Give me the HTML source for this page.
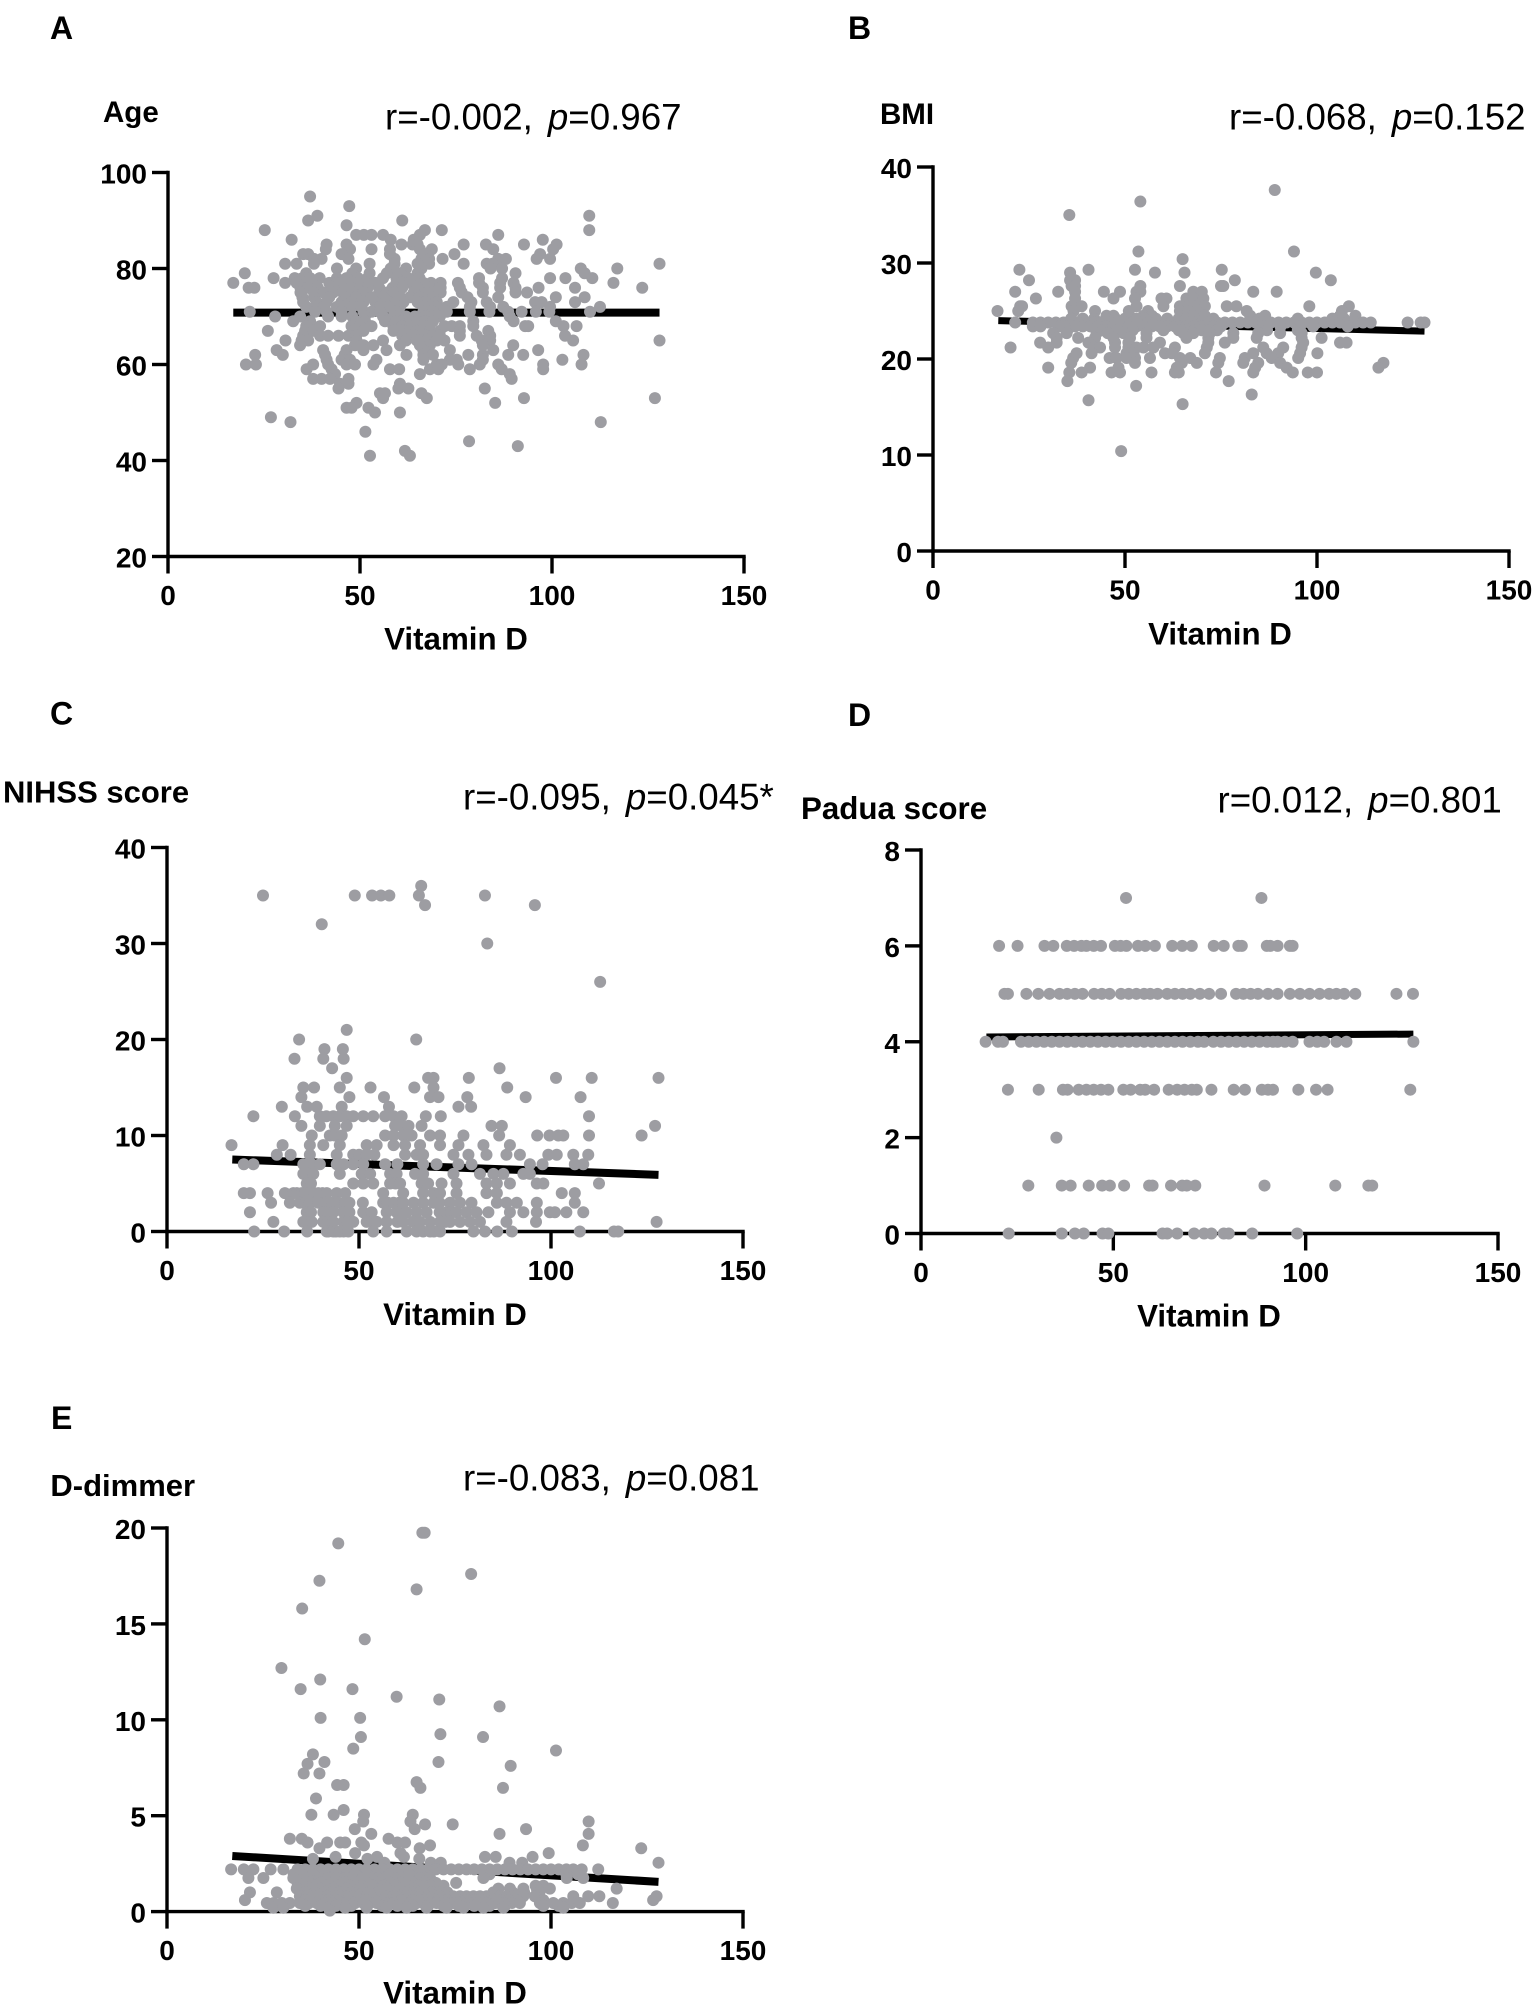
<!DOCTYPE html>
<html lang="en">
<head>
<meta charset="utf-8">
<title>Vitamin D correlations</title>
<style>
html,body{margin:0;padding:0;background:#fff;}
svg{display:block;font-family:"Liberation Sans",sans-serif;}
</style>
</head>
<body>
<svg id="figure" xmlns="http://www.w3.org/2000/svg" width="1536" height="2011" viewBox="0 0 1536 2011"></svg>
<script>
const vitaminTicks=[0,50,100,150];
const fitVitD=[17,128];

const ageTicks=[20,40,60,80,100];
const ageFit=[70.8,70.8];
const ageLevels=[95,93,91,90,89,88,87,86,85,84,83,82,81,80,79,78,77,76,75,74,73,72,71,70,69,68,67,66,65,64,63,62,61,60,59,58,57,56,55,54,53,52,51,50,49,48,46,44,43,42,41];
const ageVitD=[
[37],[47.2],[38.9,109.7],[36.5,61],[46.5],[25.2,66.9,71.3,109.7],[49,51,53,56,65.6,86],[32.2,58,64,97.6],
[41.3,46.5,60.8,63.7,65,77,82.8,92.7,101.2],[41.1,47.4,53,57.8,65.6,68.7,84.7,100.3],[35.2,36.5,45.2,57.8,67,74.6,96.9],
[38,40,47,59,66,68,71.5,86,88,96,99.5],[30.5,33.5,38,52.5,59,65,68,77,83,84.5,128],[44,49,58,62,66,84,87,107.5,117],
[20,36,48,52.5,57,60.5,65,90.5,108.5],[27.5,33,35,37,39.5,44,46.5,49.5,52,56,59.5,62.5,65.5,81,87,99.5,103.5,110.5],
[17,30.5,33.5,37.5,42,44,45,48,51.5,54,59.5,61,63,66.5,68.5,71,75.5,81,86.5,90,116],
[21,22.5,34.5,36.5,39,43,47.5,50,52,55,58.5,61,65,68,71,76,82,86.5,90.5,96.5,106,123.5],
[34.5,38,40.5,43,45.5,48,51,55,57,59,64,67.5,69,71,76.5,82,90.5,93.5],[35,38,42,46,49,53,56,60.5,63,65.5,69,78,86,101,108.5],
[35.2,38.7,41.3,45.2,47.8,50.9,54,57.8,59.5,61.3,65,67,70,74.3,79,83,95.6,97.3,106],
[36,38.3,40.4,44,45.7,48,50.4,55.2,57.5,60.4,66.5,68,70,72.6,78.6,83.9,87.3,99.5,112.5],
[21.3,38.3,41.3,45.2,50.9,53,55.2,59.5,66.5,68,69,72.6,78.6,83.7,88.6,92.1,95.8,99.3,109.9],
[27.9,34.4,41.7,45.2,48,51.3,56,58.7,62,64.3,67,69,70.8,89],[32.6,37,49,51.3,56.5,59.5,61,63,65,67,69,79.5,90,101],
[36,39.6,47.8,50,53,58.7,61,63,65,66.5,68,72,73.9,76,79.5,93,93.8,103,106.4],[26,35.7,37.8,48.3,50.9,58.7,61,63,64.8,66,68.2,70.8,76,83.4],
[35.2,39.6,41.7,44.4,47,49,61,63.5,65.6,67,69,70.8,76,80.4,83.9,103.4],[30.6,34.8,36.5,49.1,56,62,64.8,66,67.4,70,72,81.7,83.9,105.5,128],
[34.4,48.7,50.9,53.5,60.4,65.6,68.2,82,89.9],[28.3,40.4,46.5,50.9,56.9,66.5,73.4,84.7,96.4],
[22.7,29.9,40.9,46,62.1,66.5,69,78.2,82,88.6,92.5,108.2],[41.3,45.2,47.4,54.3,66.5,73.4,75.2,82,102.7],
[20.3,22.9,37.8,41.7,46.5,48.7,53.5,70,71.3,75.6,81.2,86,97.7,107.7],[36.1,42.6,57.8,60.2,68.2,70.4,78.6,86.9,97.7],
[43.5,65.6,89],[37.8,40,42.2,47,89.5],[44.8,47,60.4],[44.4,60,62.6,82.5],[55.2,56.5,66],[56,67.4,92.7,126.8],[49.1,85.2],
[46.5,47.8,52.2],[53.9,60.4],[26.8],[31.9,112.7],[51.4],[78.4],[91.1],[61.7],[52.6,63]
];

const bmiTicks=[0,10,20,30,40];
const bmiFit=[24,22.9];
const bmiLevels=[37.6,36.4,35,31.2,30.4,29.3,29,28.2,27.6,27,26.3,25.5,25,24.5,24.2,23.8,23.4,23,22.7,22.2,21.7,21.2,20.6,20.1,19.6,19.1,18.6,17.7,17.2,16.3,15.7,15.3,10.4];
const bmiVitD=[
[89],[54],[35.5],[53.5,94],[65],[22.5,40.5,52.6,75.2],[35.7,57.8,65.5,99.7],[25,35.7,37,78.6,103.6],[36.1,37,54,64.3,75,75.6],
[21.4,32.6,37,44.5,48.7,53,54,67.8,70,83.4,89.5],[26.8,37,47,52.6,59.5,60.8,66,67.8,70.4],
[22.7,23.2,36.1,38.7,53,60,64.3,66.5,68.7,70.8,76.5,79,98,108.3],[16.8,22.2,36.6,42.2,51,56,64.3,66.5,68.7,81.7,106.5],
[45.2,47,51,54.8,57,66,67.8,70.8,82.6,86.5,106,110],
[36,39,42,45,47.5,50,53,55,58,61,64,66,68,71,73,85,95,104,107],
[21.4,26,28,30,32,34,36,38,40,42,44,46,48,50,52,54,56,58,60,62,64,66,68,70,72,74,76,78,80,82,84,86,88,90,92,94,96,98,100,102,104,106,108,110,112,114,123.6,127,128],
[26,28,33,35,37,39,41,43,45,47,49,51,53,55,57,59,61,63,64,66,68,70,73,75,86,90.5,95.6,99,108],
[35,44,48,52,60,64,66,68,70,72,74,87,95],
[31.3,34.8,42.6,45.5,49.6,55.6,65.2,67.8,72.1,78.2,84.7,90.4,96],
[32.2,37.8,42.2,47,51.3,55.6,66,71.7,78.2,84.3,96,101.2],[27.9,32.2,40.5,47.4,50.9,59.1,71.7,76,96.4,106,107.7],
[20.2,30,41.8,43.5,47.4,50.9,53,54.8,57.4,63,71.3,86,91.2,96],[37.4,41.3,50.4,52.2,60.4,62.2,70.8,83.4,86.9,89.9,95.6,100.1],
[36.5,46,47.8,50.4,52.6,56.5,64.3,67,74.7,81.2,88.2,95.1],[36,52.6,64.8,68.7,74.3,80.8,84.7,90.4,117.3],
[30,40.9,48.3,63.5,83.9,92.1,116],[35.5,38.7,46.5,48.7,56.9,63,64,73.7,83.4,93.7,97.6,100],[35,77],[52.9],[83],[40.5],[65],[49]
];

const nihssTicks=[0,10,20,30,40];
const nihssFit=[7.5,5.9];
const nihssLevels=[36,35,34,32,30,26,21,20,19,18,17,16,15,14,13,12,11,10,9,8,7,6,5,4,3,2,1,0];
const nihssVitD=[
[66.2],[25,48.9,53.4,55.7,57.9,65.6,82.8],[67.2,95.8],[40.3],[83.4],[112.8],[46.8],[34.4,64.9],[41,45.8],[33.2,40.7,46],[43,86.6],
[46.8,68,69.4,78.6,101.3,110.6,128],[35.5,38.3,45,53,64.4,69.4,88.6],[35,47.5,56.5,68.5,70.7,78.2,93.4,107.7],[29.9,36.5,39,45.5,57.8,75.9,79.2],
[22.5,33.3,39.8,41.5,43.3,45,46.8,48.5,51.1,53.7,56.8,59,61.1,67.4,71.3,109.9],[35,39.8,43.7,46.8,59.4,61,62.9,66.3,84.5,87.2,127.1],
[37.7,42.4,43.7,45.5,56.8,59,61.5,63.7,68.5,71.1,77.2,86.5,96.4,99.6,101.9,103.2,109.9,123.6],
[16.8,30.1,37.2,40.7,45,52,54.6,59,62,65.9,71.1,75.9,82.4,89.3],
[28.6,32.2,37.2,44.2,48.5,50,52,54,62,65,66.7,74.6,78.5,83.2,88.4,91.9,99.3,101.5,105.8,109.7],
[20,22.5,35.5,37.7,39.8,44.2,46,48.5,51.1,56.8,60,66.7,70.2,75.9,79.3,94.5,97.8,106.2,108.4],
[35.5,37,38.1,45,50.7,52.9,58.1,59.8,64.6,66.7,74.6,81.5,85,87.6,92.8,94.5],
[36.4,37.5,48.5,51.1,53.7,58.1,59.5,60.7,66.3,68,71.5,75.4,83.2,85.9,89.3,96.3,98,112.5],
[20,21.6,26.2,30.7,32.9,33.8,35.1,36,37.2,38.4,39.4,40.5,41.6,44.2,46.4,56.3,61.5,66.7,69.4,71.1,75.4,83.2,85.9,102.8,106.2],
[27.1,32,34.6,36,37.2,39.4,41.6,43,44.5,46.4,47.5,51,56.3,57.5,59,60.5,61.5,64.2,66.7,69.4,71,73.7,76.3,79.3,85.9,88.4,91.1,96.3,106.2],
[21.6,36.4,37.5,40.7,41.5,43.3,45.9,47.5,51.1,53.3,57.2,59.8,60.5,62.4,65,67.6,71,72.8,74,75.4,78,80.6,83.7,89.3,92.8,96.3,99.7,101,104,108.4],
[27.7,35.5,37.7,40.7,42,43.3,45.9,47,48.5,52,53.5,54.6,57.2,60,61.5,64,65.9,68.5,71.1,72.5,73.7,76.3,78.9,81.5,88.4,96.1,127.5],
[22.7,30.5,36.5,41.6,42,43.3,44,45,46,47.2,53.7,57.2,62.4,65,66.7,68.5,69.5,71.1,79.8,82.8,86,89.8,107.5,116.4,117.5]
];

const paduaTicks=[0,2,4,6,8];
const paduaFit=[4.1,4.16];
const paduaLevels=[7,6,5,4,3,2,1,0];
const paduaVitD=[
[53.3,88.5],
[20.3,25.1,32.1,34.4,37.9,39.8,41.7,43,44.9,46.8,50.4,51.9,53.4,56.4,58.3,60.8,65.3,67.9,70.4,76.1,78.7,82.5,83.4,89.9,90.8,92.7,95.9,96.6],
[21.7,22.6,27.4,30.5,33.4,36,38,40,42,45,47,49,52,54,56,58,59.6,61.5,64,66,68,70,72.5,74.9,78,81.9,83.8,85.7,87.6,90.2,92.7,95.9,98.5,101,103.6,106.1,108,110,112.9,123.6,127.9],
[16.8,20,21.3,26,28,30,32,34,36,38,40,42,44,46,48,50,52,54,56,58,60,62,64,66,68,70,72,73.6,76,78,80,82,84,86,88,90,91.5,92.7,94.6,96.6,101,103,104.8,108,110.6,128],
[22.6,30.6,36.9,38.1,41,43,44.9,46.8,48.7,52.6,54.5,57,58.3,60.6,64.4,66.6,68.5,70.4,71.7,75.5,81.3,84.2,88.6,90.2,91.5,98.1,102.7,105.7,127.2],
[35.2],
[27.9,36.6,38.9,43.6,47.1,49.1,52.8,59.3,60.2,65,67.9,69.1,71.3,89.3,107.7,116.3,117.3],
[22.8,36.6,40,42.3,47.2,48.7,62.8,64,66.6,71,73.6,75.5,78.7,80,86.1,97.8]
];

const dimerTicks=[0,5,10,15,20];
const dimerFit=[2.9,1.55];
const dimerLevels=[19.75,19.2,17.6,17.25,16.8,15.8,14.2,12.7,12.1,11.6,11.2,11.06,10.7,10.1,9.25,9.1,8.5,8.4,8.2,7.8,7.7,7.6,7.2,6.75,6.6,6.45,5.9,5.3,5.05,4.7,4.55,4.3,4.05,3.8,3.6,3.45,3.3,3.05,2.85,2.75,2.55,2.2,1.95,1.75,1.5,1.35,1.2,1,0.8,0.6,0.45,0.3,0.2,0.05];
const dimerVitD=[
[66.5,67.1],[44.6],[79.2],[39.7],[65],[35.2],[51.5],[29.8],[39.9],[34.8,48.3],[59.8],[70.9],[86.6],[40,50.3],[71.2],[50.5,82.3],[48.5],[101.3],[38],
[41,70.7],[36.6],[89.5],[35.6,39.7],[65],[44.3,46],[66,87.5],[38.8],[46],[37.6,43.4,51.3,64],[51.1,63.4,109.8],[67.2,74.4],[48.9,64.5,93.5],[53.2,86.6,109.8],
[32,35.1,57.7],[36.6,41.7,45.1,46.4,50.6,60,62],[51.3,68.5,108.3],[39.7,65.8,123.5],[49,60.8,99.4],[43.9,54.7,61.7,82.8,85.6,95.2],[38,52.2,65.7],
[56.6,68.7,71.3,89.2,92.5,128],
[16.7,20,22.5,27,30.3,34,36,38,40,42,44,46,48,50,52,54,56,58,60,62,64,66,68,70,72,74,76,78,80,82,84,86,88,90,92,94,96,98,100,102,104,105.8,108,112.3],
[33,35,38,41,44,47,49,52,55,58,60,63,66,84,104,107],
[21.2,25.1,32.9,36.4,39.8,42,44.2,46.5,48.5,51,52.9,55,57.2,59.5,61.5,64,65.9,68.5,82.4,104.1,108.4],
[34,37,40,43,46,49,52,55,58,61,64,67,70,75.3],
[35.5,38.5,41.5,44.5,47.5,50.5,53.5,56.5,59.5,62.5,65.5,68.5,72,96,98],
[33.8,37.2,39.8,43.3,46.8,50.3,53.7,57.2,60.7,64.2,67.6,71.1,86.3,89.3,92.8,96.3,99.7,117.1],
[21.6,28.6,36,38.5,41,43,45,48,51,53,55,57,59,62,64,66,69,71,73,85,90,93,97],
[34.6,36.5,38.1,40,41.6,43.5,45,47,48.5,50,52,54,55.5,57,59,61,62.4,64,65.9,68,69.4,71,72.8,74.5,76.3,78,79.8,81.5,83.2,85,86.7,88.5,90.2,92.8,95.8,105.8,109.7,112.6,127.5],
[20.3,36,37,40,42,44,47,50,52,54,57,59,61,64,66,68,71,73,75,78,80,82,85,87,89,91,98,126.6],
[26,27.8,29.9,32,34.6,37,39,41,43.3,45,46.8,49,51.1,52.8,54.6,57,59,61,63.3,65,66.7,68.5,70.2,72.5,74.6,76.8,78.9,81,83.2,85.5,87.6,89.8,91.9,97.1,100.6,103.2,105.4,107.5,116.1],
[36,40,44,48,52,56,60,64,68,72,76,80,84,88,98,102],
[27.7,30.3,46.4,52,57.2,62.4,67.6,72.8,77.2,82.4,87.6,103.2],
[42.4]
];

const NS='http://www.w3.org/2000/svg';
const svg=document.getElementById('figure');
const DOT_COLOR='#9d9da2';

function makeLine(parent,x1,y1,x2,y2,width){
  const el=document.createElementNS(NS,'line');
  el.setAttribute('x1',x1);
  el.setAttribute('y1',y1);
  el.setAttribute('x2',x2);
  el.setAttribute('y2',y2);
  el.setAttribute('stroke','#000');
  el.setAttribute('stroke-width',width);
  parent.appendChild(el);
  return el;
}
function makeText(parent,x,y,str,size,weight,anchor){
  const el=document.createElementNS(NS,'text');
  el.setAttribute('x',x);
  el.setAttribute('y',y);
  el.setAttribute('font-size',size);
  el.setAttribute('font-weight',weight);
  el.setAttribute('text-anchor',anchor);
  el.setAttribute('fill','#000');
  el.textContent=str;
  parent.appendChild(el);
  return el;
}

function drawPanel(p){
  const g=document.createElementNS(NS,'g');
  
  
  svg.appendChild(g);
  const yMin=p.yTicks[0];
  const yMax=p.yTicks[p.yTicks.length-1];
  const xMax=vitaminTicks[vitaminTicks.length-1];
  const sx=function(v){return p.x0+(v/xMax)*(p.x1-p.x0);};
  const sy=function(v){return p.yB-((v-yMin)/(yMax-yMin))*(p.yB-p.yT);};

  const letter=makeText(g,p.letterX,p.letterY,p.letter,32,'bold','start');
  
  

  const yTitle=makeText(g,p.titleX,p.titleY,p.title,p.titleSize,'bold','start');
  
  

  const stat=makeText(g,p.statX,p.statY,p.r+',',36.7,'normal','start');
  
  
  const ital=document.createElementNS(NS,'tspan');
  ital.setAttribute('dx','15');
  ital.setAttribute('font-style','italic');
  ital.textContent='p';
  stat.appendChild(ital);
  const pv=document.createElementNS(NS,'tspan');
  pv.textContent=p.p;
  stat.appendChild(pv);

  const xTitle=makeText(g,p.xTitleX,p.xTitleY,'Vitamin D',31.3,'bold','middle');
  
  

  const yAxis=makeLine(g,p.x0,p.yT-1.7,p.x0,p.yB+1.7,3.4);
  
  
  const xAxis=makeLine(g,p.x0-1.7,p.yB,p.x1+1.7,p.yB,3.4);
  
  

  p.yTicks.forEach(function(t){
    const tick=makeLine(g,p.x0-16,sy(t),p.x0,sy(t),3.4);
    
    
    const label=makeText(g,p.x0-21,sy(t)+11,String(t),28,'bold','end');
    
    
  });
  vitaminTicks.forEach(function(t){
    const tick=makeLine(g,sx(t),p.yB,sx(t),p.yB+17,3.4);
    
    
    const label=makeText(g,sx(t),p.yB+48.5,String(t),28,'bold','middle');
    
    
  });

  const fit=makeLine(g,sx(fitVitD[0]),sy(p.fit[0]),sx(fitVitD[1]),sy(p.fit[1]),p.fitWidth);
  
  

  p.levels.forEach(function(level,i){
    p.vit[i].forEach(function(v){
      const c=document.createElementNS(NS,'circle');
      c.setAttribute('cx',sx(v));
      c.setAttribute('cy',sy(level));
      c.setAttribute('r',6);
      c.setAttribute('fill',DOT_COLOR);
      
      
      g.appendChild(c);
    });
  });
}

drawPanel({key:'age',letter:'A',letterX:50,letterY:39,title:'Age',titleSize:29.5,titleX:103,titleY:122,statX:385,statY:129.5,r:'r=-0.002',p:'=0.967',xTitleX:456,xTitleY:649.6,
  x0:168,x1:744,yT:172.5,yB:556.5,yTicks:ageTicks,fit:ageFit,fitWidth:8,levels:ageLevels,vit:ageVitD});
drawPanel({key:'bmi',letter:'B',letterX:848,letterY:39,title:'BMI',titleSize:29.5,titleX:880,titleY:124,statX:1229,statY:129.5,r:'r=-0.068',p:'=0.152',xTitleX:1220,xTitleY:644.4,
  x0:933,x1:1509,yT:167,yB:551,yTicks:bmiTicks,fit:bmiFit,fitWidth:7,levels:bmiLevels,vit:bmiVitD});
drawPanel({key:'nihss',letter:'C',letterX:50,letterY:724.5,title:'NIHSS score',titleSize:31,titleX:3,titleY:802.6,statX:463,statY:809.5,r:'r=-0.095',p:'=0.045*',xTitleX:455,xTitleY:1325,
  x0:167,x1:743,yT:847.5,yB:1231.5,yTicks:nihssTicks,fit:nihssFit,fitWidth:8,levels:nihssLevels,vit:nihssVitD});
drawPanel({key:'padua',letter:'D',letterX:848,letterY:726,title:'Padua score',titleSize:31.3,titleX:801,titleY:819,statX:1217.5,statY:812.5,r:'r=0.012',p:'=0.801',xTitleX:1209,xTitleY:1326.6,
  x0:921,x1:1498,yT:850,yB:1233.5,yTicks:paduaTicks,fit:paduaFit,fitWidth:7,levels:paduaLevels,vit:paduaVitD});
drawPanel({key:'d-dimer',letter:'E',letterX:51,letterY:1429,title:'D-dimmer',titleSize:31,titleX:50.4,titleY:1496,statX:463,statY:1490.7,r:'r=-0.083',p:'=0.081',xTitleX:455,xTitleY:2003.7,
  x0:167,x1:743,yT:1528,yB:1911.6,yTicks:dimerTicks,fit:dimerFit,fitWidth:8,levels:dimerLevels,vit:dimerVitD});
</script>
</body>
</html>
